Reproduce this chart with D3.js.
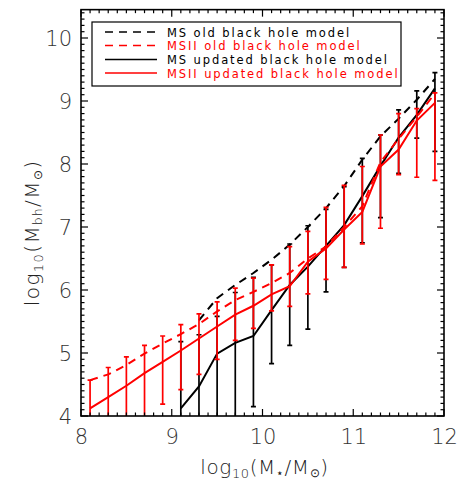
<!DOCTYPE html>
<html><head><meta charset="utf-8">
<script src="https://cdn.jsdelivr.net/npm/d3@7"></script>
<style>
body{margin:0;background:#fff;}
svg{display:block;}
text{font-family:"DejaVu Sans","Liberation Sans",sans-serif;}
</style></head>
<body>
<svg id="chart" width="460" height="489"></svg>
<script>
// ---- data ----
const xMSII = [8.1,8.3,8.5,8.7,8.9,9.1,9.3,9.5,9.7,9.9,10.1,10.3,10.5,10.7,10.9,11.1,11.3,11.5,11.7,11.9];
const msiiOld = [4.57,4.66,4.81,4.99,5.15,5.30,5.46,5.66,5.84,5.97,6.11,6.27,6.50,6.69,7.00,7.33,8.03,8.40,8.75,9.12];
const msiiNew = [4.12,4.30,4.48,4.68,4.86,5.04,5.23,5.42,5.61,5.75,5.93,6.06,6.45,6.66,6.96,7.24,7.96,8.23,8.69,8.97];
const msiiLow = [3.5,3.5,3.5,3.5,4.19,4.42,4.66,4.90,5.20,5.39,5.67,5.74,5.94,6.17,6.36,6.73,6.98,7.83,7.79,7.74];
const msiiHigh= [4.57,4.77,4.94,5.12,5.27,5.45,5.62,5.81,6.03,6.19,6.40,6.69,6.93,7.31,7.66,7.96,8.46,8.80,8.88,9.13];

const xMS = [9.1,9.3,9.5,9.7,9.9,10.1,10.3,10.5,10.7,10.9,11.1,11.3,11.5,11.7,11.9];
const msOld = [null,5.52,5.87,6.08,6.27,6.48,6.72,7.00,7.30,7.65,8.07,8.44,8.72,9.02,9.35];
const msNew = [4.12,4.47,4.99,5.16,5.27,5.68,6.08,6.37,6.70,7.03,7.49,7.97,8.42,8.78,9.20];
const msLow = [3.5,3.5,3.5,3.5,4.15,4.83,5.12,5.38,5.97,6.36,6.75,7.15,7.85,8.41,8.20];
const msHigh= [5.18,5.29,5.58,5.96,6.20,6.40,6.73,7.02,7.28,7.64,8.09,8.46,8.86,9.16,9.45];

const xTicks = [8,9,10,11,12];
const yTicks = [4,5,6,7,8,9,10];
const legendLabels = ["MS old black hole model","MSII old black hole model","MS updated black hole model","MSII updated black hole model"];

// ---- layout ----
const svg = d3.select("#chart");
const L=81, R=444, T=9.65, B=416;
const x = d3.scaleLinear().domain([8,12]).range([L,R]);
const y = d3.scaleLinear().domain([4,10.45]).range([B,T]);
const RED="#ff0000", BLK="#000000";

svg.append("defs").append("clipPath").attr("id","clip")
  .append("rect").attr("x",L).attr("y",T).attr("width",R-L).attr("height",B-T);
const plot = svg.append("g").attr("clip-path","url(#clip)");

function errBars(xs, lo, hi, color){
  const g = plot.append("g").attr("stroke",color).attr("stroke-width",1.7);
  xs.forEach((xv,i)=>{
    g.append("line").attr("x1",x(xv)).attr("x2",x(xv)).attr("y1",y(lo[i])).attr("y2",y(hi[i]));
    [lo[i],hi[i]].forEach(v=>{
      g.append("line").attr("x1",x(xv)-2.5).attr("x2",x(xv)+2.5).attr("y1",y(v)).attr("y2",y(v));
    });
  });
}
function line(xs, ys, color, dash){
  const gen = d3.line().defined(d=>d[1]!==null).x(d=>x(d[0])).y(d=>y(d[1]));
  plot.append("path").datum(xs.map((v,i)=>[v,ys[i]]))
    .attr("d",gen).attr("fill","none").attr("stroke",color).attr("stroke-width",2)
    .attr("stroke-dasharray",dash||null);
}

errBars(xMS, msLow, msHigh, BLK);
line(xMS, msOld, BLK, "8,6");
line(xMS, msNew, BLK);
errBars(xMSII, msiiLow, msiiHigh, RED);
line(xMSII, msiiOld, RED, "8,6");
line(xMSII, msiiNew, RED);

// ---- axes (ticks on all 4 sides, inward) ----
const ax = svg.append("g").attr("stroke","#000").attr("stroke-width",1.2);
const xMinor = d3.range(80,121).map(v=>v/10);
const yMinor = d3.range(40,105).map(v=>v/10);
xMinor.forEach(v=>{
  const major = Math.abs(v-Math.round(v))<1e-6;
  const len = major?7:3.5;
  ax.append("line").attr("x1",x(v)).attr("x2",x(v)).attr("y1",B).attr("y2",B-len);
  ax.append("line").attr("x1",x(v)).attr("x2",x(v)).attr("y1",T).attr("y2",T+len);
});
yMinor.forEach(v=>{
  const major = Math.abs(v-Math.round(v))<1e-6;
  const len = major?7:3.5;
  ax.append("line").attr("x1",L).attr("x2",L+len).attr("y1",y(v)).attr("y2",y(v));
  ax.append("line").attr("x1",R).attr("x2",R-len).attr("y1",y(v)).attr("y2",y(v));
});
svg.append("rect").attr("x",L).attr("y",T).attr("width",R-L).attr("height",B-T)
  .attr("fill","none").attr("stroke","#000").attr("stroke-width",1.6);

// tick labels via d3 axes (lines hidden)
const xa = svg.append("g").attr("transform",`translate(0,${B})`)
  .call(d3.axisBottom(x).tickValues(xTicks).tickFormat(d3.format("d")).tickSize(0).tickPadding(13));
const ya = svg.append("g").attr("transform",`translate(${L},0)`)
  .call(d3.axisLeft(y).tickValues(yTicks).tickFormat(d3.format("d")).tickSize(0).tickPadding(9));
[xa,ya].forEach(a=>{
  a.select(".domain").remove();
  a.selectAll("text").attr("font-size",21).attr("font-family","'DejaVu Sans',sans-serif")
    .attr("font-weight",200).attr("fill","#333");
});
ya.selectAll("text").attr("dy","0.35em");

// axis titles
const xt = svg.append("text").attr("x",(L+R)/2+2).attr("y",474).attr("text-anchor","middle")
  .attr("font-size",20).attr("font-weight",200).attr("letter-spacing",0.6).attr("fill","#222");
xt.append("tspan").text("log");
xt.append("tspan").attr("font-size",13).attr("dy",4).text("10");
xt.append("tspan").attr("dy",-4).text("(M");
xt.append("tspan").attr("font-size",12).attr("dy",3).text("⋆");
xt.append("tspan").attr("dy",-3).text("/M");
xt.append("tspan").attr("font-size",12).attr("dy",3).text("⊙");
xt.append("tspan").attr("dy",-3).text(")");

const yt = svg.append("text").attr("transform",`translate(39,${(T+B)/2+20}) rotate(-90)`)
  .attr("text-anchor","middle").attr("font-size",20).attr("font-weight",200)
  .attr("letter-spacing",1.4).attr("fill","#222");
yt.append("tspan").text("log");
yt.append("tspan").attr("font-size",13).attr("dy",4).text("10");
yt.append("tspan").attr("dy",-4).text("(M");
yt.append("tspan").attr("font-size",12).attr("dy",3).text("bh");
yt.append("tspan").attr("dy",-3).text("/M");
yt.append("tspan").attr("font-size",12).attr("dy",3).text("⊙");
yt.append("tspan").attr("dy",-3).text(")");

// legend
const lg = svg.append("g");
lg.append("rect").attr("x",92).attr("y",22).attr("width",309).attr("height",64)
  .attr("fill","#fff").attr("stroke","#000").attr("stroke-width",1.2);
const styles = [[BLK,"8,6"],[RED,"8,6"],[BLK,null],[RED,null]];
const rowsY = [32,45.5,59.5,73];
legendLabels.forEach((t,i)=>{
  lg.append("line").attr("x1",105).attr("x2",157).attr("y1",rowsY[i]).attr("y2",rowsY[i])
    .attr("stroke",styles[i][0]).attr("stroke-width",1.6).attr("stroke-dasharray",styles[i][1]);
  lg.append("text").attr("x",167).attr("y",rowsY[i]+4.5).attr("font-size",11.5)
    .attr("letter-spacing",1.9).attr("fill",styles[i][0]).text(t);
});
</script>
</body></html>
